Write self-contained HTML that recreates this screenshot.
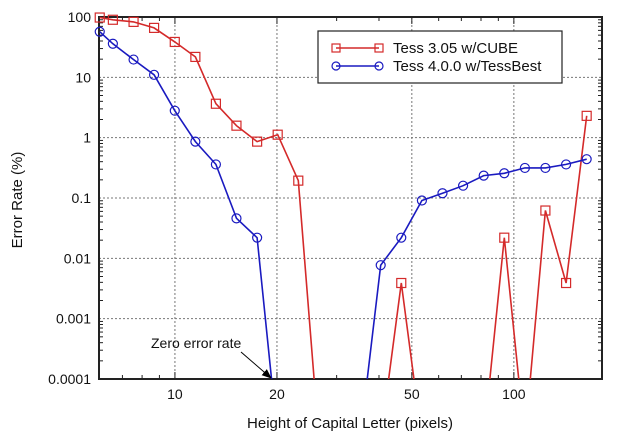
<!DOCTYPE html>
<html><head><meta charset="utf-8"><style>
html,body{margin:0;padding:0;background:#fff;}
svg{display:block;font-family:"Liberation Sans",Arial,sans-serif;}
</style></head><body>
<svg id="chart" width="620" height="442" viewBox="0 0 620 442">
<defs>
<clipPath id="plotclip"><rect x="99" y="10" width="503" height="369"/></clipPath>
<marker id="arr" markerWidth="10" markerHeight="8" refX="9" refY="4" orient="auto"><path d="M0,0 L10,4 L0,8 z" fill="#000"/></marker>
</defs>
<g id="grid"></g>
<g id="axes"></g>
<g id="series" clip-path="url(#plotclip)"></g>
<g id="markers"></g>
<text x="350" y="428" font-size="15" text-anchor="middle" fill="#111">Height of Capital Letter (pixels)</text>
<text x="0" y="0" font-size="15" text-anchor="middle" fill="#111" transform="translate(22,200) rotate(-90)">Error Rate (%)</text>
<g>
<text x="151" y="348" font-size="14" fill="#111">Zero error rate</text>
<line x1="241" y1="352" x2="271" y2="378" stroke="#000" stroke-width="1" marker-end="url(#arr)"/>
</g>
<g>
<rect x="318" y="31" width="244" height="52" fill="#fff" stroke="#222" stroke-width="1.2"/>
<g>
<line x1="336" y1="48" x2="379" y2="48" stroke="#d42a2a" stroke-width="1.5"/>
<rect x="332" y="44" width="8" height="8" fill="none" stroke="#d42a2a" stroke-width="1.2"/>
<rect x="375" y="44" width="8" height="8" fill="none" stroke="#d42a2a" stroke-width="1.2"/>
<text x="393" y="53" font-size="15" fill="#111">Tess 3.05 w/CUBE</text>
</g>
<g>
<line x1="336" y1="66" x2="379" y2="66" stroke="#1a1ac0" stroke-width="1.5"/>
<circle cx="336" cy="66" r="4" fill="none" stroke="#1a1ac0" stroke-width="1.2"/>
<circle cx="379" cy="66" r="4" fill="none" stroke="#1a1ac0" stroke-width="1.2"/>
<text x="393" y="71" font-size="15" fill="#111">Tess 4.0.0 w/TessBest</text>
</g>
</g>
</svg>
<script>
// Data (0 = zero error rate, drawn below the axis)
const heights = [6, 6.56, 7.55, 8.68, 9.99, 11.49, 13.21, 15.19, 17.48, 20.10, 23.12, 26.59, 30.58, 35.18, 40.47, 46.54, 53.54, 61.58, 70.83, 81.47, 93.70, 107.8, 123.9, 142.6, 164.0];
const tess305 = [98, 90, 83, 66, 38.6, 21.8, 3.65, 1.58, 0.86, 1.12, 0.194, 0, 0, 0, 0, 0.0039, 0, 0, 0, 0, 0.022, 0, 0.062, 0.0039, 2.3];
const tess400 = [57, 36, 19.7, 11, 2.8, 0.86, 0.36, 0.046, 0.022, 0, 0, 0, 0, 0, 0.0077, 0.022, 0.091, 0.12, 0.16, 0.235, 0.257, 0.315, 0.315, 0.36, 0.44];
const xTicks = [10, 20, 50, 100];
const xTickLabels = ["10", "20", "50", "100"];
const yTicks = [100, 10, 1, 0.1, 0.01, 0.001, 0.0001];
const yTickLabels = ["100", "10", "1", "0.1", "0.01", "0.001", "0.0001"];

const L = 99, R = 602, T = 17, B = 379;
const xMin = 5.97, xMax = 182, yMin = 0.0001, yMax = 100, FLOOR = 1e-5;
function xs(v){ return L + (Math.log10(v) - Math.log10(xMin)) / (Math.log10(xMax) - Math.log10(xMin)) * (R - L); }
function ys(v){ return B - (Math.log10(Math.max(v, FLOOR)) - Math.log10(yMin)) / (Math.log10(yMax) - Math.log10(yMin)) * (B - T); }
const NS = "http://www.w3.org/2000/svg";
function mk(tag, attrs, parent){ const e = document.createElementNS(NS, tag); for (const k in attrs) e.setAttribute(k, attrs[k]); parent.appendChild(e); return e; }
const grid = document.getElementById('grid'), axes = document.getElementById('axes');
const series = document.getElementById('series'), markers = document.getElementById('markers');

xTicks.forEach((t, i) => {
  const x = xs(t);
  const g = mk('line', {x1:x, y1:T, x2:x, y2:B, stroke:'#777', 'stroke-width':1, 'stroke-dasharray':'2,2'}, grid);
  
  
  const lb = mk('text', {x:x, y:399, 'font-size':14, 'text-anchor':'middle', fill:'#111'}, axes);
  lb.textContent = xTickLabels[i];
  
  
});
yTicks.forEach((t, i) => {
  const y = ys(t);
  if (t < yMax && t > yMin) {
    const g = mk('line', {x1:L, y1:y, x2:R, y2:y, stroke:'#777', 'stroke-width':1, 'stroke-dasharray':'2,2'}, grid);
    
    
  }
  const lb = mk('text', {x:91, y:y + 5, 'font-size':14, 'text-anchor':'end', fill:'#111'}, axes);
  lb.textContent = yTickLabels[i];
  
  
});
// minor ticks
for (let d = -4; d < 2; d++) for (let m = 2; m <= 9; m++) {
  const y = ys(m * Math.pow(10, d));
  mk('line', {x1:L, y1:y, x2:L + 4, y2:y, stroke:'#222', 'stroke-width':1}, axes);
  mk('line', {x1:R, y1:y, x2:R - 4, y2:y, stroke:'#222', 'stroke-width':1}, axes);
}
[7,8,9,10,20,30,40,50,60,70,80,90,100].forEach(v => {
  const x = xs(v), len = (v===10||v===20||v===50||v===100) ? 7 : 4;
  mk('line', {x1:x, y1:B, x2:x, y2:B - len, stroke:'#222', 'stroke-width':1}, axes);
  mk('line', {x1:x, y1:T, x2:x, y2:T + len, stroke:'#222', 'stroke-width':1}, axes);
});
const frame = mk('rect', {x:L, y:T, width:R - L, height:B - T, fill:'none', stroke:'#222', 'stroke-width':2}, axes);



function drawSeries(vals, color, name, shape){
  const pts = heights.map((h, i) => xs(h).toFixed(1) + ',' + ys(vals[i]).toFixed(1)).join(' ');
  const pl = mk('polyline', {points:pts, fill:'none', stroke:color, 'stroke-width':1.6}, series);
  
  
  heights.forEach((h, i) => {
    const v = vals[i];
    if (v <= 0) return;
    const x = xs(h), y = ys(v);
    let m;
    if (shape === 'square') m = mk('rect', {x:x - 4.5, y:y - 4.5, width:9, height:9, fill:'none', stroke:color, 'stroke-width':1.2}, markers);
    else m = mk('circle', {cx:x, cy:y, r:4.5, fill:'none', stroke:color, 'stroke-width':1.2}, markers);
    
    
  });
}
drawSeries(tess305, '#d42a2a', 'tess305', 'square');
drawSeries(tess400, '#1a1ac0', 'tess400', 'circle');
</script>
</body></html>
